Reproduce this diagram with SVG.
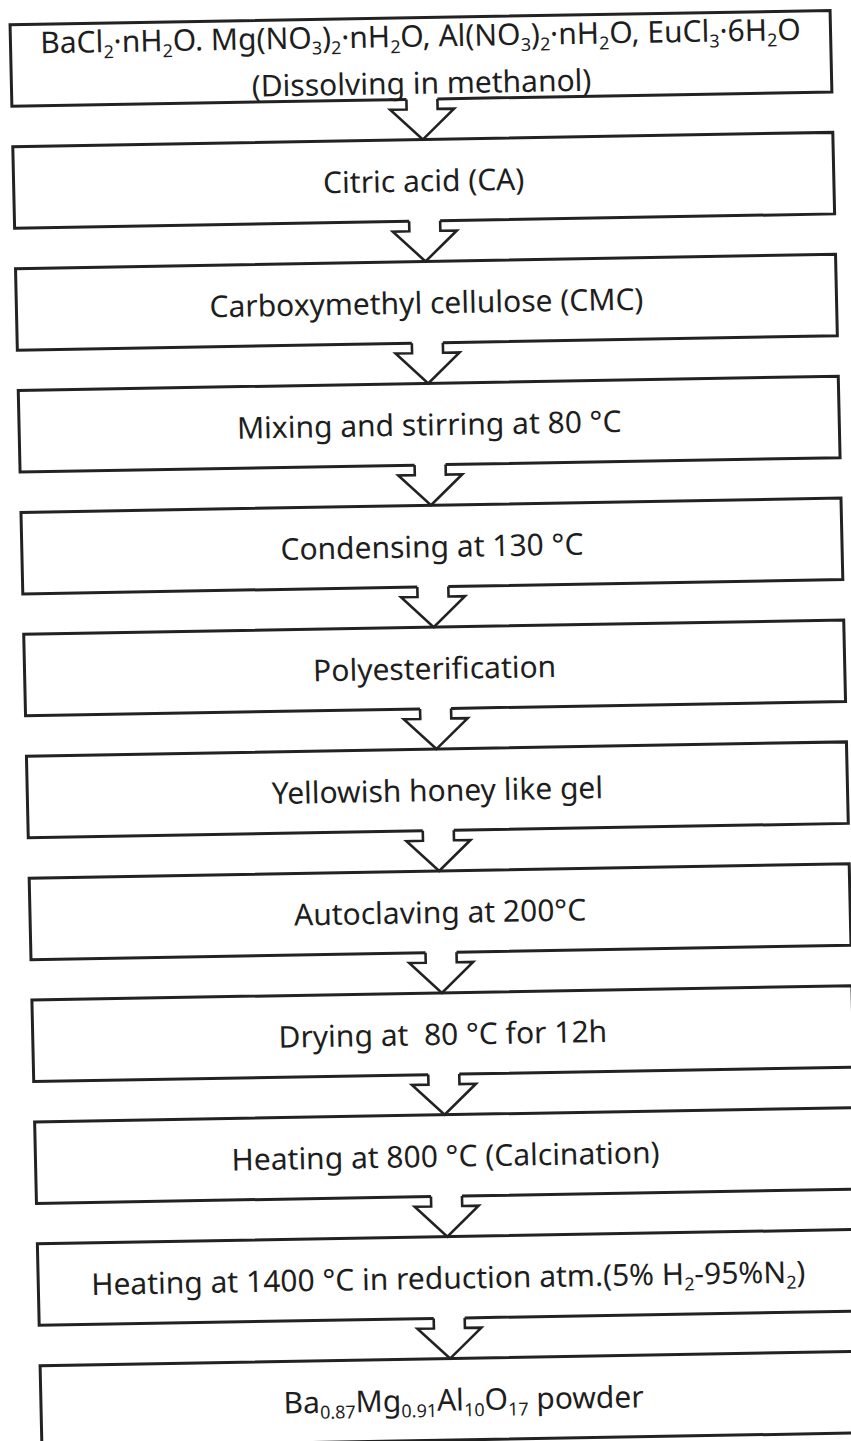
<svg xmlns="http://www.w3.org/2000/svg" width="851" height="1441" viewBox="0 0 851 1441">
<style>
.box{fill:none;stroke:#222;stroke-width:3;stroke-linejoin:miter}
.arrow{fill:#fff;stroke:#222;stroke-width:2.6;stroke-linejoin:miter}
text{font-family:"Noto Sans","Open Sans","DejaVu Sans",sans-serif;font-size:30px;fill:#1e1e1e;text-anchor:middle}
.s{font-size:18px}
</style>
<rect width="851" height="1441" fill="#fff"/>
<g transform="matrix(1 -0.0175 0.0224 1 0 0)">
<g id="connectors">
<path class="arrow" d="M404,106.5 V116.5 H387.5 L419.5,146.9 L451.5,116.5 H435 V106.5"/>
<path class="arrow" d="M404,228.4 V238.4 H387.5 L419.5,268.8 L451.5,238.4 H435 V228.4"/>
<path class="arrow" d="M404,350.3 V360.3 H387.5 L419.5,390.7 L451.5,360.3 H435 V350.3"/>
<path class="arrow" d="M404,472.2 V482.2 H387.5 L419.5,512.6 L451.5,482.2 H435 V472.2"/>
<path class="arrow" d="M404,594.1 V604.1 H387.5 L419.5,634.5 L451.5,604.1 H435 V594.1"/>
<path class="arrow" d="M404,716 V726 H387.5 L419.5,756.4 L451.5,726 H435 V716"/>
<path class="arrow" d="M404,837.9 V847.9 H387.5 L419.5,878.3 L451.5,847.9 H435 V837.9"/>
<path class="arrow" d="M404,959.8 V969.8 H387.5 L419.5,1000.2 L451.5,969.8 H435 V959.8"/>
<path class="arrow" d="M404,1081.7 V1091.7 H387.5 L419.5,1122.1 L451.5,1091.7 H435 V1081.7"/>
<path class="arrow" d="M404,1203.6 V1213.6 H387.5 L419.5,1244 L451.5,1213.6 H435 V1203.6"/>
<path class="arrow" d="M404,1325.5 V1335.5 H387.5 L419.5,1365.9 L451.5,1335.5 H435 V1325.5"/>
</g>
<g id="n1">
<path class="box" d="M404,106.5 H9.5 V25 H829.5 V106.5 H435"/>
<text x="419.5" y="54">BaCl<tspan class="s" dy="6">2</tspan><tspan dy="-6">·nH</tspan><tspan class="s" dy="6">2</tspan><tspan dy="-6">O. Mg(NO</tspan><tspan class="s" dy="6">3</tspan><tspan dy="-6">)</tspan><tspan class="s" dy="6">2</tspan><tspan dy="-6">·nH</tspan><tspan class="s" dy="6">2</tspan><tspan dy="-6">O, Al(NO</tspan><tspan class="s" dy="6">3</tspan><tspan dy="-6">)</tspan><tspan class="s" dy="6">2</tspan><tspan dy="-6">·nH</tspan><tspan class="s" dy="6">2</tspan><tspan dy="-6">O, EuCl</tspan><tspan class="s" dy="6">3</tspan><tspan dy="-6">·6H</tspan><tspan class="s" dy="6">2</tspan><tspan dy="-6">O</tspan></text>
<text x="419.5" y="101">(Dissolving in methanol)</text>
</g>
<g id="n2">
<path class="box" d="M404,228.4 H9.5 V146.9 H829.5 V228.4 H435"/>
<text x="419.5" y="198.9">Citric acid (CA)</text>
</g>
<g id="n3">
<path class="box" d="M404,350.3 H9.5 V268.8 H829.5 V350.3 H435"/>
<text x="419.5" y="320.8">Carboxymethyl cellulose (CMC)</text>
</g>
<g id="n4">
<path class="box" d="M404,472.2 H9.5 V390.7 H829.5 V472.2 H435"/>
<text x="419.5" y="442.7">Mixing and stirring at 80 °C</text>
</g>
<g id="n5">
<path class="box" d="M404,594.1 H9.5 V512.6 H829.5 V594.1 H435"/>
<text x="419.5" y="564.6">Condensing at 130 °C</text>
</g>
<g id="n6">
<path class="box" d="M404,716 H9.5 V634.5 H829.5 V716 H435"/>
<text x="419.5" y="686.5">Polyesterification</text>
</g>
<g id="n7">
<path class="box" d="M404,837.9 H9.5 V756.4 H829.5 V837.9 H435"/>
<text x="419.5" y="808.4">Yellowish honey like gel</text>
</g>
<g id="n8">
<path class="box" d="M404,959.8 H9.5 V878.3 H829.5 V959.8 H435"/>
<text x="419.5" y="930.3">Autoclaving at 200°C</text>
</g>
<g id="n9">
<path class="box" d="M404,1081.7 H9.5 V1000.2 H829.5 V1081.7 H435"/>
<text x="419.5" y="1052.2" xml:space="preserve">Drying at  80 °C for 12h</text>
</g>
<g id="n10">
<path class="box" d="M404,1203.6 H9.5 V1122.1 H829.5 V1203.6 H435"/>
<text x="419.5" y="1174.1">Heating at 800 °C (Calcination)</text>
</g>
<g id="n11">
<path class="box" d="M404,1325.5 H9.5 V1244 H829.5 V1325.5 H435"/>
<text x="419.5" y="1296">Heating at 1400 °C in reduction atm.(5% H<tspan class="s" dy="6">2</tspan><tspan dy="-6">-95%N</tspan><tspan class="s" dy="6">2</tspan><tspan dy="-6">)</tspan></text>
</g>
<g id="n12">
<path class="box" d="M9.5,1365.9 H829.5 V1447.4 H9.5 Z"/>
<text x="432" y="1417.9">Ba<tspan class="s" dy="6">0.87</tspan><tspan dy="-6">Mg</tspan><tspan class="s" dy="6">0.91</tspan><tspan dy="-6">Al</tspan><tspan class="s" dy="6">10</tspan><tspan dy="-6">O</tspan><tspan class="s" dy="6">17</tspan><tspan dy="-6"> powder</tspan></text>
</g>
</g>
</svg>
